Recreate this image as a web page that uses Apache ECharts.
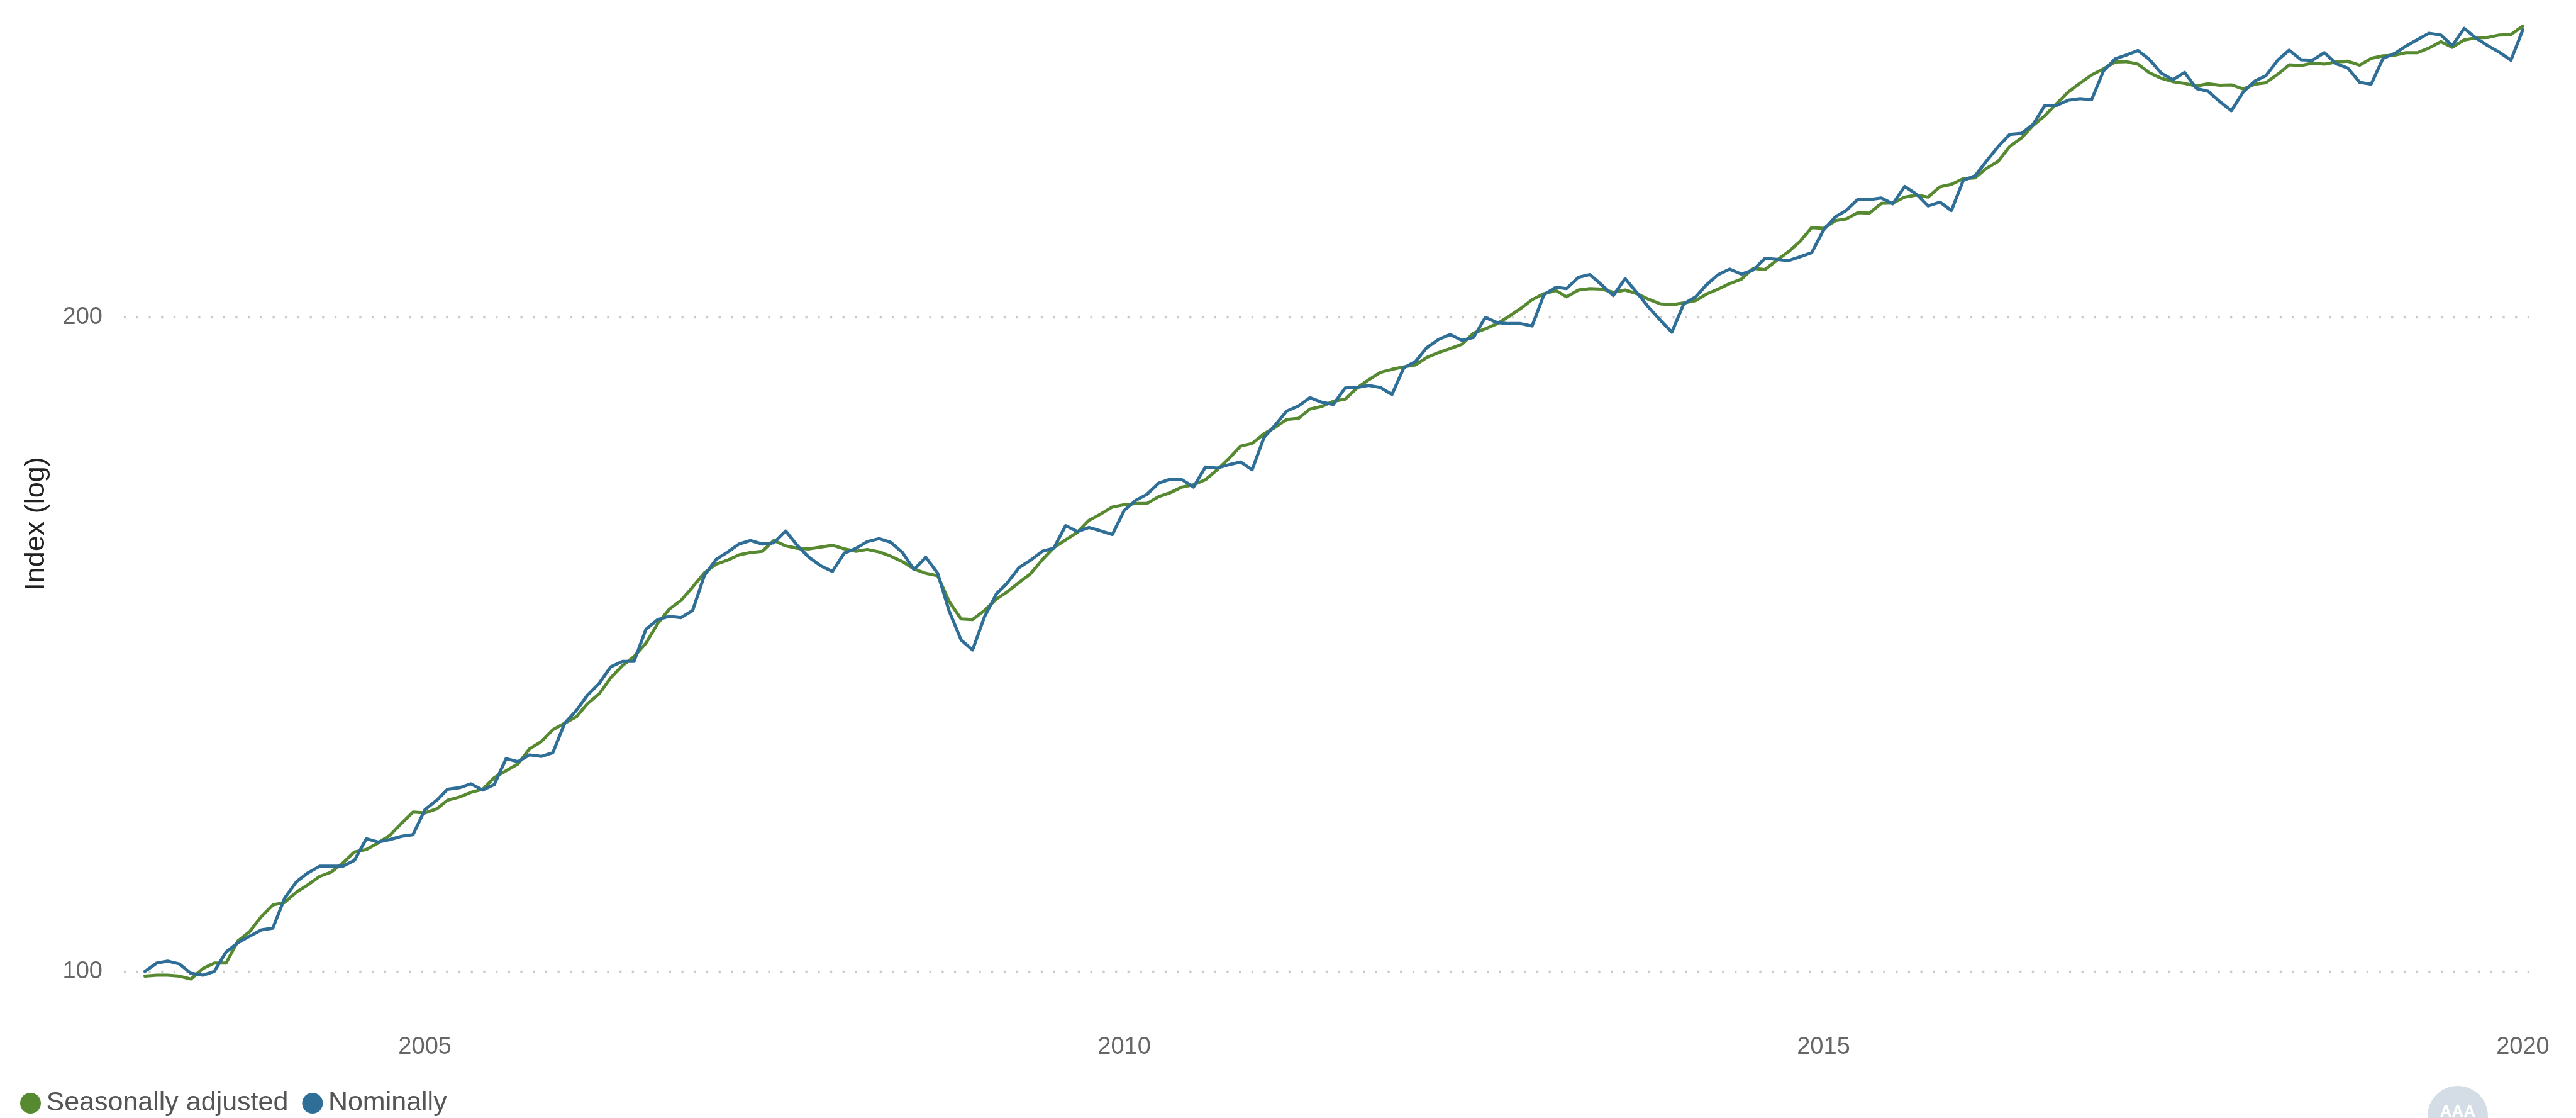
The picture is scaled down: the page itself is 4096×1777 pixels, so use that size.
<!DOCTYPE html>
<html>
<head>
<meta charset="utf-8">
<script src="https://cdn.jsdelivr.net/npm/echarts@6/dist/echarts.min.js"></script>
<style>
html,body{margin:0;padding:0;background:#ffffff;}
#chart{width:4096px;height:1777px;}
</style>
</head>
<body>
<div id="chart"></div>
<script>
// ---- data (monthly, Jan 2003 .. Jan 2020) ----
const startYear = 2003;
const startMonth = 0;
const seriesNames = ['Seasonally adjusted', 'Nominally'];
const yAxisName = 'Index (log)';
const yTickValues = [100, 200];
const xTickYears = [2005, 2010, 2015, 2020];

const seasonallyAdjusted = [
  99.5, 99.6, 99.6, 99.5, 99.2, 100.3, 100.9, 100.9, 103.3, 104.3, 106.0, 107.3,
  107.6, 108.8, 109.6, 110.6, 111.1, 112.2, 113.5, 113.8, 114.6, 115.5, 117.0, 118.4,
  118.3, 118.8, 119.9, 120.3, 120.9, 121.3, 122.8, 123.7, 124.6, 126.6, 127.6,
  129.2, 130.1, 131.0, 132.8, 134.2, 136.5, 138.3, 139.6, 141.6, 144.6, 146.8, 148.2,
  150.3, 152.6, 154.0, 154.6, 155.5, 155.9, 156.1, 157.9, 157.0, 156.6, 156.5, 156.8,
  157.1, 156.5, 156.1, 156.4, 156.0, 155.3, 154.4, 153.2, 152.5, 152.1,
  148.0, 145.3, 145.2, 146.6, 148.4, 149.5, 151.0, 152.4, 154.7, 156.7, 158.0, 159.3,
  161.3, 162.4, 163.6, 164.0, 164.2, 164.2, 165.4, 166.1, 167.1, 167.5, 168.4, 170.2,
  172.2, 174.5, 175.0, 176.8, 178.1, 179.5, 179.7, 181.5, 182.0, 183.0,
  183.4, 185.6, 187.2, 188.7, 189.3, 189.8, 190.2, 191.7, 192.7, 193.5, 194.4, 196.7,
  197.6, 198.7, 200.2, 201.9, 203.8, 205.1, 205.8, 204.4, 205.9, 206.2, 206.1, 205.4,
  205.9, 205.1, 203.9, 202.9, 202.7, 203.1, 203.6, 205.0, 206.1, 207.3,
  208.3, 210.7, 210.4, 212.5, 214.4, 216.8, 220.0, 219.8, 221.6, 222.0, 223.5, 223.4,
  225.7, 225.8, 227.2, 227.7, 227.2, 229.7, 230.3, 231.7, 231.9, 234.2, 236.0, 239.7,
  241.9, 245.1, 247.7, 250.9, 254.0, 256.4, 258.6, 260.3, 262.2, 262.3, 261.6,
  259.2, 257.7, 256.8, 256.3, 255.6, 256.2, 255.8, 255.9, 254.8, 256.1, 256.5, 258.8,
  261.4, 261.2, 261.9, 261.6, 262.2, 262.4, 261.3, 263.2, 263.9, 264.1, 264.8, 264.8,
  266.1, 267.9, 266.3, 268.4, 269.0, 269.1, 269.8, 269.9, 272.4
];

const nominally = [
  100.0, 100.9, 101.1, 100.8, 99.8, 99.6, 100.0, 102.1, 103.1, 103.8, 104.5, 104.7,
  108.1, 110.0, 111.0, 111.8, 111.8, 111.8, 112.5, 115.1, 114.7, 115.0, 115.4, 115.6,
  118.7, 119.9, 121.3, 121.5, 122.0, 121.2, 121.9, 125.3, 124.9, 125.8, 125.6,
  126.1, 130.1, 131.9, 134.0, 135.7, 138.1, 138.9, 138.9, 143.7, 145.2, 145.7, 145.5,
  146.6, 152.2, 154.8, 155.9, 157.3, 157.9, 157.3, 157.5, 159.5, 157.0, 155.1, 153.7,
  152.8, 155.8, 156.6, 157.7, 158.2, 157.6, 155.9, 153.1, 155.1, 152.5,
  146.5, 142.1, 140.6, 145.6, 149.2, 150.9, 153.4, 154.6, 156.1, 156.6, 160.4, 159.4,
  160.1, 159.5, 158.9, 163.0, 164.8, 165.8, 167.8, 168.5, 168.4, 167.1, 170.7, 170.5,
  171.1, 171.6, 170.2, 176.1, 178.6, 181.1, 182.1, 183.7, 182.8, 182.4,
  185.6, 185.7, 186.1, 185.7, 184.3, 189.6, 190.9, 193.7, 195.4, 196.4, 195.2, 195.8,
  200.0, 198.9, 198.7, 198.7, 198.2, 204.9, 206.5, 206.2, 208.7, 209.3, 207.0, 204.7,
  208.4, 205.3, 202.2, 199.4, 196.9, 202.9, 204.4, 207.0, 209.3, 210.5,
  209.4, 210.3, 212.9, 212.7, 212.4, 213.3, 214.2, 219.4, 222.5, 224.0, 226.7, 226.6,
  227.0, 225.6, 229.8, 227.9, 225.1, 226.0, 224.0, 231.3, 232.4, 236.0, 239.7, 242.8,
  243.1, 245.4, 250.4, 250.4, 251.8, 252.2, 251.9, 259.7, 263.1, 264.1, 265.4,
  262.9, 259.1, 257.3, 259.3, 254.9, 254.2, 251.4, 249.0, 254.0, 257.0, 258.4, 262.7,
  265.5, 262.8, 262.7, 264.8, 261.7, 260.5, 256.6, 256.1, 263.2, 264.6, 266.6, 268.5,
  270.3, 269.8, 266.8, 271.7, 268.9, 266.8, 264.9, 262.7, 271.3
];

// month timestamps (categories)
const months = seasonallyAdjusted.map((_, i) => new Date(startYear, startMonth + i, 1).getTime());
const xTickValues = xTickYears.map(y => new Date(y, 0, 1).getTime());

const FONT = "'Liberation Sans', Arial, Helvetica, sans-serif";
const GREEN = '#568930';
const BLUE = '#2f6e97';

const chart = echarts.init(document.getElementById('chart'), null, {renderer: 'canvas'});

const option = {
  animation: false,
  backgroundColor: '#ffffff',
  grid: { left: 197, right: 73, top: 0, bottom: 156, containLabel: false },
  xAxis: {
    type: 'value',
    min: new Date(2002, 10, 7).getTime(),
    max: new Date(2020, 0, 20).getTime(),
    axisLine: { show: false },
    axisTick: { show: false, customValues: xTickValues },
    splitLine: { show: false },
    axisLabel: {
      customValues: xTickValues,
      formatter: v => String(new Date(v).getFullYear()),
      fontSize: 38,
      color: '#666666',
      fontFamily: FONT,
      margin: 25,
      showMinLabel: true,
      showMaxLabel: true
    }
  },
  yAxis: {
    type: 'log',
    logBase: 2,
    min: 95,
    max: 280,
    axisLine: { show: false },
    axisTick: { show: false, customValues: yTickValues },
    axisLabel: {
      customValues: yTickValues,
      fontSize: 38,
      color: '#666666',
      fontFamily: FONT,
      margin: 34
    },
    splitLine: {
      show: true,
      lineStyle: { color: '#c9c9c9', width: 3.3, type: [3.3, 16.4] }
    },
    name: yAxisName,
    nameLocation: 'middle',
    nameRotate: 90,
    nameGap: 117,
    nameTextStyle: {
      fontSize: 45,
      color: '#222222',
      fontFamily: FONT,
      padding: [0, 44, 0, 0]
    }
  },
  legend: {
    left: 27,
    top: 1727,
    orient: 'horizontal',
    icon: 'circle',
    itemWidth: 40,
    itemHeight: 33,
    itemGap: 22,
    textStyle: { fontSize: 43, color: '#555555', fontFamily: FONT },
    data: seriesNames
  },
  graphic: [
    { type: 'circle', silent: true, shape: { cx: 3908, cy: 1774, r: 48 }, style: { fill: '#d4dde6' } },
    { type: 'text', silent: true, x: 3908, y: 1768, style: { text: 'AAA', fill: '#ffffff', font: 'bold 26px ' + FONT, align: 'center', verticalAlign: 'middle' } }
  ],
  series: [
    {
      name: seriesNames[0],
      type: 'line',
      data: months.map((t, i) => [t, seasonallyAdjusted[i]]),
      showSymbol: false,
      symbol: 'none',
      color: GREEN,
      lineStyle: { width: 5, color: GREEN, join: 'round', cap: 'round' },
      z: 2
    },
    {
      name: seriesNames[1],
      type: 'line',
      data: months.map((t, i) => [t, nominally[i]]),
      showSymbol: false,
      symbol: 'none',
      color: BLUE,
      lineStyle: { width: 5, color: BLUE, join: 'round', cap: 'round' },
      z: 3
    }
  ]
};

chart.setOption(option);
</script>
</body>
</html>
